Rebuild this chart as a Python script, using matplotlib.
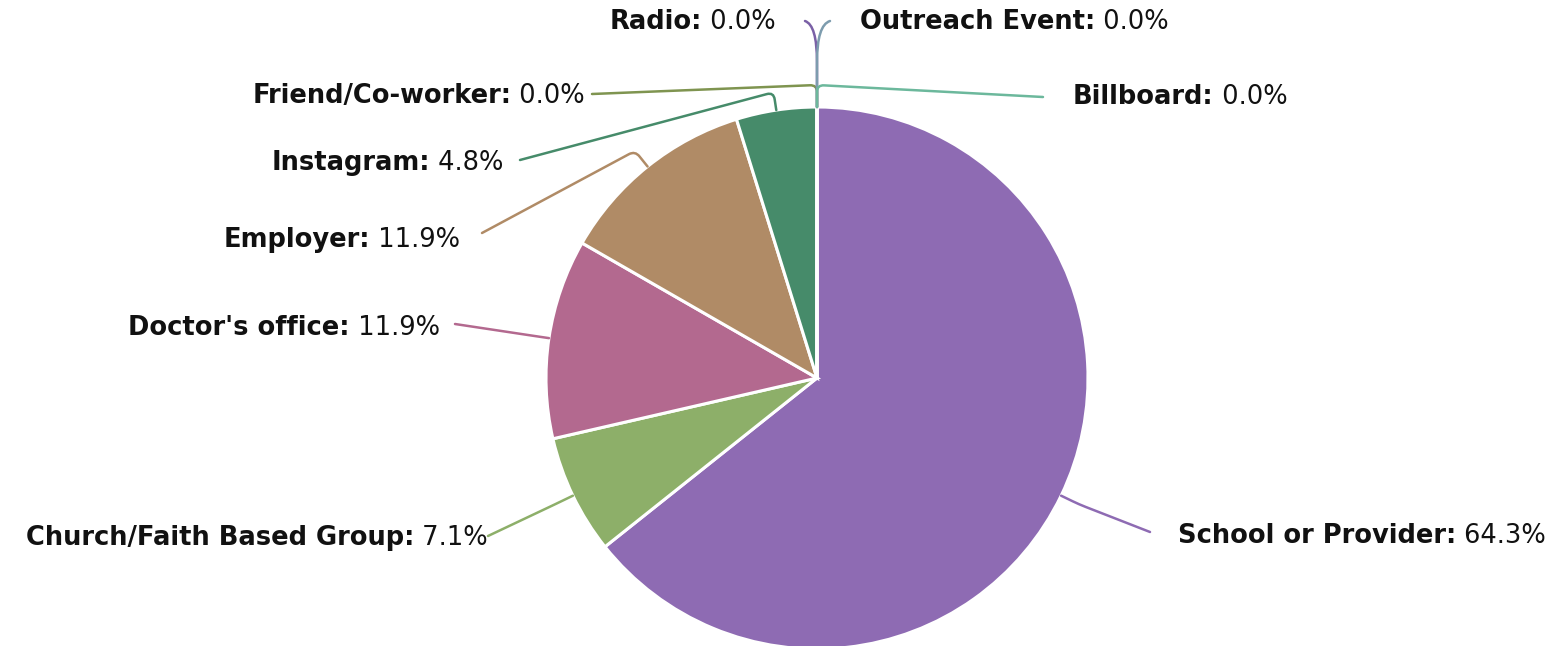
import numpy as np
import matplotlib.pyplot as plt
from matplotlib.path import Path
from matplotlib.patches import PathPatch

# slice data (clockwise from the top)
names = ['School or Provider', 'Church/Faith Based Group', "Doctor's office",
         'Employer', 'Instagram', 'Friend/Co-worker', 'Radio',
         'Outreach Event', 'Billboard']
shares = [64.3, 7.1, 11.9, 11.9, 4.8, 0.0, 0.0, 0.0, 0.0]
colors = ['#8e6bb3', '#8daf69', '#b3698f', '#b08b66', '#468b6a',
          '#7f9450', '#7a60a6', '#7d9cae', '#6cb89c']

# label layout in pixels: text anchor (x, y, ha), connector end, radial stub length
lab_pos = [(1178, 536, 'left'), (488, 538, 'right'), (440, 328, 'right'),
           (460, 240, 'right'), (503, 163, 'right'), (585, 96, 'right'),
           (776, 22, 'right'), (860, 22, 'left'), (1073, 97, 'left')]
con_end = [(1150, 532), (488, 536), (455, 324), (482, 233), (520, 160),
           (592, 94), (805, 21), (830, 21), (1043, 97)]
stub = [20, 20, 20, 20, 18, 22, 45, 45, 22]

cx, cy, R = 817, 378, 271
FS = 18.5

fig = plt.figure(figsize=(15.6, 6.46), dpi=100)
ax = fig.add_axes([0, 0, 1, 1])
ax.pie(shares, colors=colors, startangle=-90, counterclock=True,
       center=(cx, cy), radius=R,
       wedgeprops=dict(edgecolor='white', linewidth=2.2))
ax.set_xlim(0, 1560)
ax.set_ylim(646, 0)
ax.set_aspect('equal')
ax.axis('off')

# mid angles (clockwise from top, degrees)
edges = np.concatenate([[0], np.cumsum(shares)]) / sum(shares) * 360
mids = (edges[:-1] + edges[1:]) / 2

for i in range(len(names)):
    a = np.radians(mids[i])
    d = np.array([np.sin(a), -np.cos(a)])
    p0 = np.array([cx, cy]) + d * R
    p1 = p0 + d * stub[i]
    p3 = np.array(con_end[i], dtype=float)
    if names[i] in ('Radio', 'Outreach Event'):
        ctrl = np.array([cx, p3[1] + 4])
        verts = [p0, p1, ctrl, p3]
        codes = [Path.MOVETO, Path.LINETO, Path.CURVE3, Path.CURVE3]
    else:
        # soft bend at p1
        v = p3 - p1
        rr = min(7, np.linalg.norm(v) * 0.3)
        a_pt = p1 - d * min(rr, stub[i] * 0.5)
        b_pt = p1 + v / np.linalg.norm(v) * rr
        verts = [p0, a_pt, p1, b_pt, p3]
        codes = [Path.MOVETO, Path.LINETO, Path.CURVE3, Path.CURVE3, Path.LINETO]
    ax.add_patch(PathPatch(Path(verts, codes), fill=False,
                           edgecolor=colors[i], lw=1.8, capstyle='round'))

    x, y, ha = lab_pos[i]
    val = '%.1f%%' % shares[i]
    if ha == 'left':
        t = ax.text(x, y, names[i] + ':', ha='left', va='center',
                    fontsize=FS, fontweight='bold', color='#111111')
        ax.annotate(' ' + val, xycoords=t, xy=(1, 0.5), va='center',
                    ha='left', fontsize=FS, color='#111111')
    else:
        t = ax.text(x, y, ' ' + val, ha='right', va='center',
                    fontsize=FS, color='#111111')
        ax.annotate(names[i] + ':', xycoords=t, xy=(0, 0.5), va='center',
                    ha='right', fontsize=FS, fontweight='bold', color='#111111')

plt.savefig('out.png', dpi=100)
